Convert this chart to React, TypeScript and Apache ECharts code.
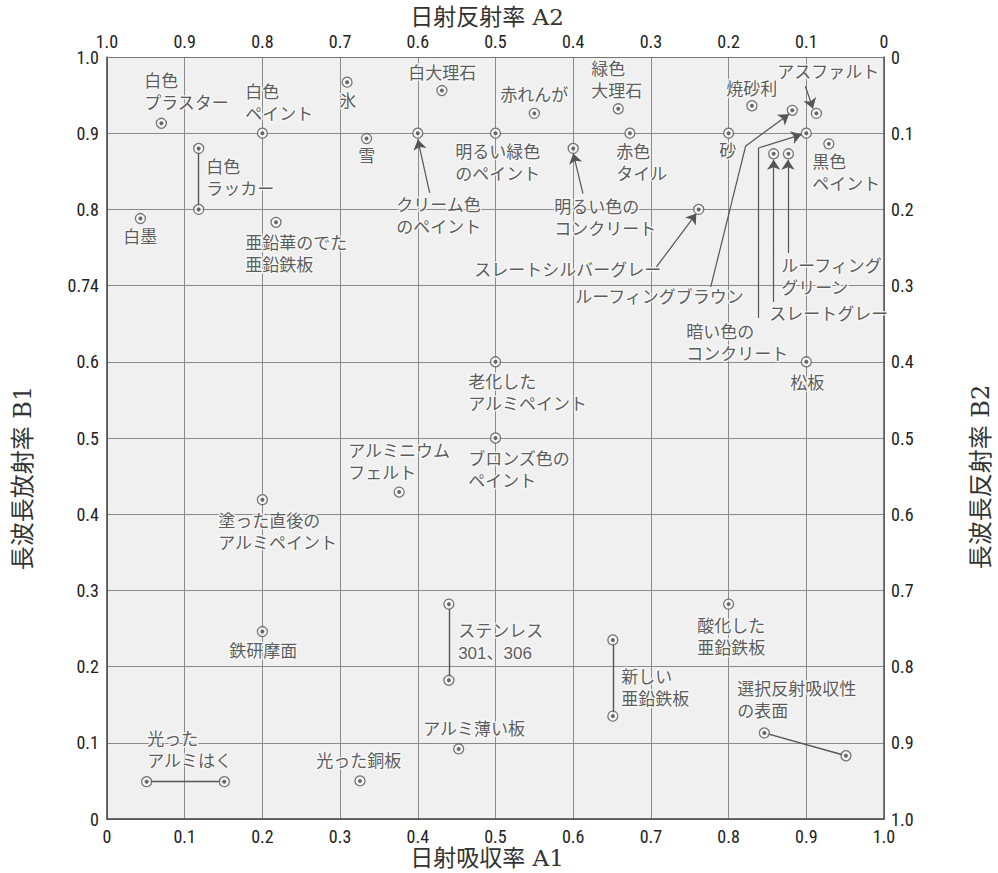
import React, { useEffect, useRef } from 'react';
import * as echarts from 'echarts';

// Tick labels
const bottomTickLabels = ['0', '0.1', '0.2', '0.3', '0.4', '0.5', '0.6', '0.7', '0.8', '0.9', '1.0'];
const topTickLabels = ['0', '0.1', '0.2', '0.3', '0.4', '0.5', '0.6', '0.7', '0.8', '0.9', '1.0'];
const leftTickLabels = ['0', '0.1', '0.2', '0.3', '0.4', '0.5', '0.6', '0.74', '0.8', '0.9', '1.0'];
const rightTickLabels = ['0', '0.1', '0.2', '0.3', '0.4', '0.5', '0.6', '0.7', '0.8', '0.9', '1.0'];

// Single-point materials: solar absorptance A1 (x), long-wave emissivity B1 (y)
const pointMaterials = [
  '白色プラスター', '白色ペイント', '氷', '白大理石', '雪', '白墨', '亜鉛華のでた亜鉛鉄板',
  'クリーム色のペイント', '赤れんが', '明るい緑色のペイント', '緑色大理石', '赤色タイル',
  '明るい色のコンクリート', 'スレートシルバーグレー', '焼砂利', 'ルーフィングブラウン', 'アスファルト',
  '砂', '暗い色のコンクリート', '黒色ペイント', 'スレートグレー', 'ルーフィンググリーン', '松板',
  '老化したアルミペイント', 'ブロンズ色のペイント', 'アルミニウムフェルト', '塗った直後のアルミペイント',
  '鉄研摩面', 'アルミ薄い板', '光った銅板', '酸化した亜鉛鉄板',
];
const pointA1 = [
  0.07, 0.2, 0.309, 0.431, 0.334, 0.043, 0.2175,
  0.4, 0.55, 0.5, 0.658, 0.673,
  0.6, 0.7615, 0.83, 0.882, 0.913,
  0.8, 0.9, 0.929, 0.858, 0.877, 0.9,
  0.5, 0.5, 0.376, 0.2,
  0.2, 0.4526, 0.3256, 0.8,
];
const pointB1 = [
  0.913, 0.9, 0.967, 0.956, 0.893, 0.788, 0.783,
  0.9, 0.926, 0.9, 0.932, 0.9,
  0.88, 0.8, 0.936, 0.93, 0.926,
  0.9, 0.9, 0.886, 0.873, 0.873, 0.6,
  0.6, 0.5, 0.429, 0.419,
  0.246, 0.092, 0.05, 0.282,
];

// Materials given as a range (two points joined by a line)
const rangeMaterials = ['白色ラッカー', 'ステンレス 301、306', '新しい亜鉛鉄板', '光ったアルミはく', '選択反射吸収性の表面'];
const rangeA1 = [[0.118, 0.118], [0.44, 0.44], [0.651, 0.651], [0.051, 0.151], [0.846, 0.951]];
const rangeB1 = [[0.88, 0.8], [0.282, 0.182], [0.235, 0.135], [0.049, 0.049], [0.113, 0.083]];

// Label texts and their anchors (top-left, in A1/B1 units)
const labelTexts = [
  '白色\nプラスター', '白色\nペイント', '氷', '白大理石', '雪', '白色\nラッカー', '白墨',
  '亜鉛華のでた\n亜鉛鉄板', 'クリーム色\nのペイント', '赤れんが', '明るい緑色\nのペイント', '緑色\n大理石',
  '赤色\nタイル', '明るい色の\nコンクリート', 'スレートシルバーグレー', '焼砂利', 'アスファルト', '砂',
  '黒色\nペイント', 'ルーフィング\nグリーン', 'ルーフィングブラウン', 'スレートグレー', '暗い色の\nコンクリート',
  '松板', '老化した\nアルミペイント', 'アルミニウム\nフェルト', 'ブロンズ色の\nペイント',
  '塗った直後の\nアルミペイント', '鉄研摩面', '光った\nアルミはく', '光った銅板', 'ステンレス\n301、306',
  'アルミ薄い板', '新しい\n亜鉛鉄板', '酸化した\n亜鉛鉄板', '選択反射吸収性\nの表面',
];
const labelA1 = [
  0.0485, 0.1785, 0.2995, 0.3883, 0.324, 0.1283, 0.0215,
  0.1785, 0.3729, 0.5068, 0.4488, 0.6238,
  0.656, 0.5763, 0.4733, 0.7976, 0.8632, 0.7885,
  0.9082, 0.8683, 0.6032, 0.8529, 0.7461,
  0.8799, 0.4655, 0.311, 0.4655,
  0.1438, 0.1579, 0.0524, 0.27, 0.4526,
  0.4076, 0.6624, 0.7603, 0.8118,
];
const labelB1 = [
  0.981, 0.9669, 0.9557, 0.9917, 0.8828, 0.8684, 0.7765,
  0.7687, 0.8186, 0.9629, 0.8881, 0.997,
  0.8881, 0.816, 0.7333, 0.9707, 0.993, 0.8894,
  0.875, 0.7386, 0.6979, 0.6756, 0.652,
  0.5851, 0.5864, 0.4959, 0.4854,
  0.404, 0.2335, 0.1181, 0.0892, 0.2597,
  0.1312, 0.1994, 0.2663, 0.1837,
];

// Leader arrows (polyline in A1/B1 units, arrow at the end)
const leaderPaths: number[][][] = [
  [[0.4153, 0.8216], [0.4, 0.8916]],
  [[0.6126, 0.8208], [0.6, 0.8734]],
  [[0.7071, 0.7245], [0.7585, 0.7945]],
  [[0.777, 0.6983], [0.822, 0.8833], [0.8777, 0.9248]],
  [[0.8384, 0.6576], [0.8384, 0.8806], [0.8937, 0.8982]],
  [[0.858, 0.6786], [0.858, 0.8653]],
  [[0.8764, 0.7429], [0.8764, 0.8653]],
  [[0.8988, 0.9616], [0.9086, 0.9323]],
];

const tickFont = '"Liberation Sans Narrow", "Roboto Condensed", Roboto, sans-serif';
const labelFont = '"Liberation Sans", "Noto Sans CJK JP", sans-serif';
const titleFont = '"DejaVu Serif", "Liberation Serif", "Noto Sans CJK JP", serif';

const idx = (v: number) => Math.round(v * 10);

export default function App() {
  const ref = useRef<HTMLDivElement>(null);
  useEffect(() => {
    if (!ref.current) return;
    const chart = echarts.init(ref.current, undefined, { renderer: 'svg', width: 998, height: 873 });

    const allPoints: any[] = pointMaterials.map((n, i) => ({ name: n, value: [pointA1[i], pointB1[i]] }));
    rangeMaterials.forEach((n, i) => {
      allPoints.push({ name: n, value: [rangeA1[i][0], rangeB1[i][0]] });
      allPoints.push({ name: n, value: [rangeA1[i][1], rangeB1[i][1]] });
    });
    const rangeLines = rangeMaterials.map((n, i) => ({
      name: n,
      coords: [[rangeA1[i][0], rangeB1[i][0]], [rangeA1[i][1], rangeB1[i][1]]],
    }));
    const labelData = labelTexts.map((t, i) => ({ name: t, value: [labelA1[i], labelB1[i]] }));

    // split leader paths: plain segments and final arrow segments
    const plainSegments: any[] = [];
    const arrowSegments: any[] = [];
    leaderPaths.forEach((p) => {
      for (let k = 0; k < p.length - 1; k++) {
        const seg = { coords: [p[k], p[k + 1]] };
        if (k === p.length - 2) arrowSegments.push(seg);
        else plainSegments.push(seg);
      }
    });

    const tickLabel = (arr: string[]) => ({
      fontFamily: tickFont,
      fontSize: 18,
      color: '#222',
      margin: 8,
      showMinLabel: true,
      showMaxLabel: true,
      formatter: (v: number) => arr[idx(v)],
    });

    const option: any = {
      animation: false,
      backgroundColor: '#ffffff',
      grid: {
        left: 107,
        right: 114,
        top: 57,
        bottom: 54,
        show: true,
        backgroundColor: '#f0f0f0',
        borderWidth: 0,
      },
      xAxis: [
        {
          type: 'value', min: 0, max: 1, interval: 0.1, position: 'bottom',
          axisLine: { show: true, lineStyle: { color: '#444', width: 1.5 } },
          axisTick: { show: false },
          splitLine: { show: true, lineStyle: { color: '#8a8a8a', width: 1 } },
          axisLabel: tickLabel(bottomTickLabels),
        },
        {
          type: 'value', min: 0, max: 1, interval: 0.1, position: 'top', inverse: true,
          axisLine: { show: true, lineStyle: { color: '#777', width: 1.2 } },
          axisTick: { show: false },
          splitLine: { show: false },
          axisLabel: { ...tickLabel(topTickLabels), margin: 7 },
        },
      ],
      yAxis: [
        {
          type: 'value', min: 0, max: 1, interval: 0.1, position: 'left',
          axisLine: { show: true, lineStyle: { color: '#444', width: 1.5 } },
          axisTick: { show: false },
          splitLine: { show: true, lineStyle: { color: '#8a8a8a', width: 1 } },
          axisLabel: tickLabel(leftTickLabels),
        },
        {
          type: 'value', min: 0, max: 1, interval: 0.1, position: 'right', inverse: true,
          axisLine: { show: true, lineStyle: { color: '#555', width: 1.5 } },
          axisTick: { show: false },
          splitLine: { show: false },
          axisLabel: { ...tickLabel(rightTickLabels), margin: 7 },
        },
      ],
      series: [
        {
          type: 'lines', coordinateSystem: 'cartesian2d', xAxisIndex: 0, yAxisIndex: 0,
          data: rangeLines, symbol: ['none', 'none'],
          lineStyle: { color: '#555', width: 1.4, opacity: 1 },
          z: 3,
        },
        {
          type: 'lines', coordinateSystem: 'cartesian2d', xAxisIndex: 0, yAxisIndex: 0,
          data: plainSegments, symbol: ['none', 'none'],
          lineStyle: { color: '#555', width: 1.2, opacity: 1 },
          z: 3,
        },
        {
          type: 'lines', coordinateSystem: 'cartesian2d', xAxisIndex: 0, yAxisIndex: 0,
          data: arrowSegments, symbol: ['none', 'arrow'], symbolSize: 10,
          itemStyle: { color: '#555' },
          lineStyle: { color: '#555', width: 1.2, opacity: 1 },
          z: 3,
        },
        {
          type: 'scatter', xAxisIndex: 0, yAxisIndex: 0,
          data: labelData, symbol: 'circle', symbolSize: 1,
          itemStyle: { color: 'rgba(0,0,0,0)' },
          label: {
            show: true,
            position: [0, 0],
            align: 'left',
            verticalAlign: 'top',
            formatter: (p: any) => p.name,
            fontFamily: labelFont,
            fontSize: 17,
            lineHeight: 22,
            color: '#333',
            textBorderColor: '#f8f8f8',
            textBorderWidth: 3,
          },
          z: 4,
        },
        {
          type: 'scatter', xAxisIndex: 0, yAxisIndex: 0,
          data: allPoints, symbol: 'circle', symbolSize: 10,
          itemStyle: { color: '#fafafa', borderColor: '#555', borderWidth: 1.3 },
          z: 5,
        },
        {
          type: 'scatter', xAxisIndex: 0, yAxisIndex: 0,
          data: allPoints, symbol: 'circle', symbolSize: 4,
          itemStyle: { color: '#444' },
          z: 6,
        },
      ],
      graphic: [
        {
          type: 'text', x: 487, y: 17,
          style: { text: '日射反射率 A2', fontFamily: titleFont, fontSize: 23, fill: '#333', align: 'center', verticalAlign: 'middle' },
        },
        {
          type: 'text', x: 487, y: 858,
          style: { text: '日射吸収率 A1', fontFamily: titleFont, fontSize: 23, fill: '#333', align: 'center', verticalAlign: 'middle' },
        },
        {
          type: 'text', x: 23, y: 478, rotation: Math.PI / 2,
          style: { text: '長波長放射率 B1', fontFamily: titleFont, fontSize: 24, fill: '#333', align: 'center', verticalAlign: 'middle' },
        },
        {
          type: 'text', x: 981, y: 477, rotation: Math.PI / 2,
          style: { text: '長波長反射率 B2', fontFamily: titleFont, fontSize: 24, fill: '#333', align: 'center', verticalAlign: 'middle' },
        },
      ],
    };

    chart.setOption(option);
    return () => chart.dispose();
  }, []);

  return (
    <div
      ref={ref}
      style={{ position: 'fixed', left: 0, top: 0, width: 998, height: 873, background: '#fff' }}
    />
  );
}
